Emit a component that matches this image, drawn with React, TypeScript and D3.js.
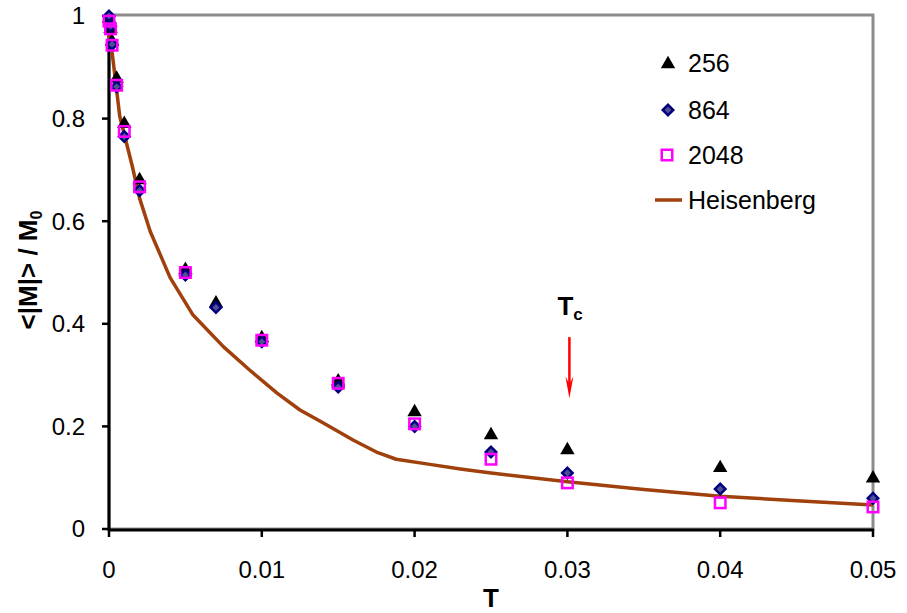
import React, { useRef, useEffect } from "react";
import * as d3 from "d3";

// temperatures where the simulations were sampled
const tAll = [0, 0.0001, 0.0002, 0.0005, 0.001, 0.002, 0.005, 0.007, 0.01, 0.015, 0.02, 0.025, 0.03, 0.04, 0.05];
const m256 = [0.995, 0.975, 0.95, 0.878, 0.79, 0.68, 0.505, 0.44, 0.372, 0.288, 0.228, 0.183, 0.154, 0.119, 0.099];
const m864 = [1.0, 0.98, 0.945, 0.862, 0.765, 0.66, 0.495, 0.432, 0.365, 0.277, 0.2, 0.15, 0.109, 0.078, 0.06];

const t2048 = [0, 0.0001, 0.0002, 0.0005, 0.001, 0.002, 0.005, 0.01, 0.015, 0.02, 0.025, 0.03, 0.04, 0.05];
const m2048 = [0.99, 0.975, 0.943, 0.865, 0.775, 0.667, 0.5, 0.368, 0.284, 0.205, 0.136, 0.09, 0.051, 0.043];

const tHeis = [0, 0.0002, 0.0007, 0.0015, 0.002, 0.0027, 0.004, 0.0055, 0.0075, 0.0092, 0.011, 0.0125, 0.014, 0.016, 0.0175, 0.0188, 0.021, 0.023, 0.025, 0.03, 0.035, 0.04, 0.045, 0.05];
const mHeis = [0.965, 0.93, 0.805, 0.71, 0.645, 0.58, 0.49, 0.417, 0.355, 0.31, 0.265, 0.232, 0.207, 0.173, 0.15, 0.136, 0.126, 0.117, 0.109, 0.092, 0.077, 0.064, 0.055, 0.047];

const xTicks = [0, 0.01, 0.02, 0.03, 0.04, 0.05];
const yTicks = [0, 0.2, 0.4, 0.6, 0.8, 1];
const legendLabels = ["256", "864", "2048", "Heisenberg"];

// Tc arrow annotation
const tc = 0.03;
const tcArrowTop = 0.374;
const tcArrowTip = 0.255;

const FONT = "'Liberation Sans', Arial, sans-serif";

const App = () => {
  const ref = useRef<SVGSVGElement>(null);

  useEffect(() => {
    document.body.style.margin = "0";
    const svg = d3.select(ref.current);
    svg.selectAll("*").remove();

    const left = 109;
    const right = 873;
    const top = 16;
    const bottom = 529;

    const x = d3.scaleLinear().domain([0, 0.05]).range([left, right]);
    const y = d3.scaleLinear().domain([0, 1]).range([bottom, top]);

    // plot frame (grey)
    svg
      .append("rect")
      .attr("x", left)
      .attr("y", top - 1)
      .attr("width", right - left)
      .attr("height", bottom - top + 1)
      .attr("fill", "none")
      .attr("stroke", "#8c8c8c")
      .attr("stroke-width", 3);

    // axes
    svg
      .append("line")
      .attr("x1", left)
      .attr("x2", left)
      .attr("y1", top - 2)
      .attr("y2", bottom + 2)
      .attr("stroke", "#000")
      .attr("stroke-width", 3);
    svg
      .append("line")
      .attr("x1", left - 1)
      .attr("x2", right + 1)
      .attr("y1", bottom + 1)
      .attr("y2", bottom + 1)
      .attr("stroke", "#000")
      .attr("stroke-width", 3);

    // ticks + labels
    svg
      .selectAll(".xt")
      .data(xTicks)
      .join("line")
      .attr("x1", (d) => x(d))
      .attr("x2", (d) => x(d))
      .attr("y1", bottom)
      .attr("y2", bottom + 8)
      .attr("stroke", "#000")
      .attr("stroke-width", 2.5);
    svg
      .selectAll(".xl")
      .data(xTicks)
      .join("text")
      .attr("x", (d) => x(d))
      .attr("y", 578)
      .attr("text-anchor", "middle")
      .attr("font-family", FONT)
      .attr("font-size", 24)
      .text((d) => (d === 0 ? "0" : String(d)));

    svg
      .selectAll(".yt")
      .data(yTicks)
      .join("line")
      .attr("x1", left - 7)
      .attr("x2", left)
      .attr("y1", (d) => y(d))
      .attr("y2", (d) => y(d))
      .attr("stroke", "#000")
      .attr("stroke-width", 2.5);
    svg
      .selectAll(".yl")
      .data(yTicks)
      .join("text")
      .attr("x", 85)
      .attr("y", (d) => y(d))
      .attr("dy", "0.35em")
      .attr("text-anchor", "end")
      .attr("font-family", FONT)
      .attr("font-size", 24)
      .text((d) => String(d));

    // axis titles
    svg
      .append("text")
      .attr("x", 491)
      .attr("y", 607)
      .attr("text-anchor", "middle")
      .attr("font-family", FONT)
      .attr("font-weight", "bold")
      .attr("font-size", 26)
      .text("T");

    const yt = svg
      .append("text")
      .attr("transform", "translate(37,270) rotate(-90)")
      .attr("text-anchor", "middle")
      .attr("font-family", FONT)
      .attr("font-weight", "bold")
      .attr("font-size", 26);
    yt.append("tspan").text("<|M|> / M");
    yt.append("tspan").attr("font-size", 16).attr("dy", 5).text("0");

    // Heisenberg curve
    const line = d3
      .line<number>()
      .x((_, i) => x(tHeis[i]))
      .y((d) => y(d));
    svg
      .append("path")
      .datum(mHeis)
      .attr("fill", "none")
      .attr("stroke", "#a0400c")
      .attr("stroke-width", 3.5)
      .attr("stroke-linejoin", "round")
      .attr("d", line);

    const tri = d3.symbol().type(d3.symbolTriangle).size(90);
    const dia = d3.symbol().type(d3.symbolSquare).size(55);

    const drawTri = (g, cx, cy) =>
      g
        .append("path")
        .attr("d", tri())
        .attr("transform", `translate(${cx},${cy})`)
        .attr("fill", "#000");
    const drawDia = (g, cx, cy) =>
      g
        .append("path")
        .attr("d", dia())
        .attr("transform", `translate(${cx},${cy}) rotate(45)`)
        .attr("fill", "#505090")
        .attr("stroke", "#000080")
        .attr("stroke-width", 2.5);
    const drawSq = (g, cx, cy) =>
      g
        .append("rect")
        .attr("x", cx - 5.25)
        .attr("y", cy - 5.25)
        .attr("width", 10.5)
        .attr("height", 10.5)
        .attr("fill", "none")
        .attr("stroke", "#ff00ff")
        .attr("stroke-width", 2.5);

    const marks = svg.append("g");
    m256.forEach((v, i) => drawTri(marks, x(tAll[i]), y(v)));
    m864.forEach((v, i) => drawDia(marks, x(tAll[i]), y(v)));
    m2048.forEach((v, i) => drawSq(marks, x(t2048[i]), y(v)));

    // legend
    const lg = svg.append("g");
    const ly = [63, 110, 155, 200];
    drawTri(lg, 668, ly[0] + 1);
    drawDia(lg, 668, ly[1]);
    drawSq(lg, 667, ly[2]);
    lg.append("line")
      .attr("x1", 655)
      .attr("x2", 682)
      .attr("y1", ly[3])
      .attr("y2", ly[3])
      .attr("stroke", "#a0400c")
      .attr("stroke-width", 3.5);
    lg.selectAll("text")
      .data(legendLabels)
      .join("text")
      .attr("x", 688)
      .attr("y", (_, i) => ly[i])
      .attr("dy", "0.36em")
      .attr("font-family", FONT)
      .attr("font-size", 25)
      .text((d) => d);

    // Tc annotation
    const ax = x(tc) + 2;
    const tcText = svg
      .append("text")
      .attr("x", ax - 12)
      .attr("y", 315)
      .attr("font-family", FONT)
      .attr("font-weight", "bold")
      .attr("font-size", 26);
    tcText.append("tspan").text("T");
    tcText.append("tspan").attr("font-size", 17).attr("dy", 5).text("c");

    svg
      .append("line")
      .attr("x1", ax)
      .attr("x2", ax)
      .attr("y1", y(tcArrowTop))
      .attr("y2", y(tcArrowTip) - 12)
      .attr("stroke", "#ff0000")
      .attr("stroke-width", 2.5);
    const tip = y(tcArrowTip);
    svg
      .append("path")
      .attr(
        "d",
        `M${ax - 4},${tip - 22} L${ax},${tip - 14} L${ax + 4},${tip - 22} L${ax},${tip} Z`
      )
      .attr("fill", "#ff0000");
  }, []);

  return <svg ref={ref} width={907} height={613} style={{ display: "block" }}></svg>;
};

export default App;
